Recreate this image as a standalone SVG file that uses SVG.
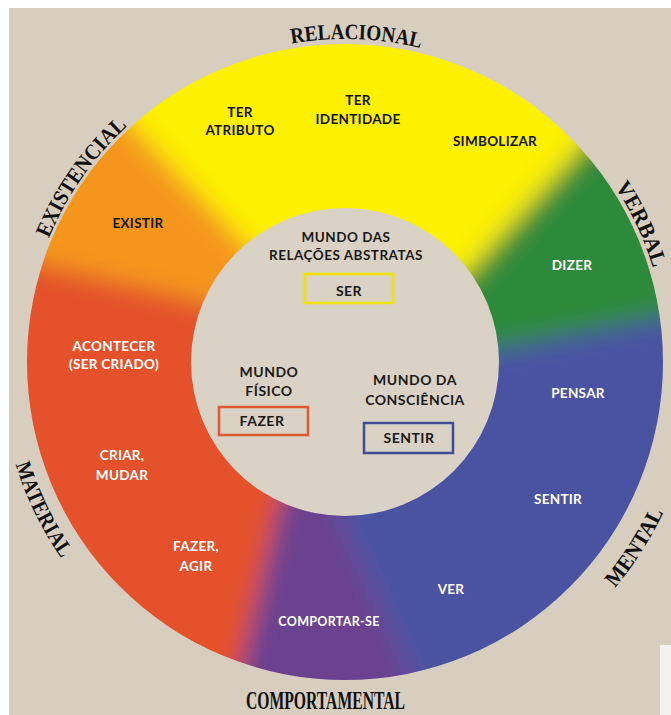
<svg xmlns="http://www.w3.org/2000/svg" width="671" height="715" viewBox="0 0 671 715">
<style>
.ring{font-family:Lato,"Open Sans","DejaVu Sans",sans-serif;font-weight:700;font-size:13.5px;text-anchor:middle;letter-spacing:0.3px}
.dk{fill:#141414}
.lt{fill:#ffffff}
.inner{font-family:Lato,"Open Sans","DejaVu Sans",sans-serif;font-weight:700;font-size:14px;text-anchor:middle;fill:#1a1a1a;letter-spacing:0.5px}
.cat{font-family:"Liberation Serif","Times New Roman",serif;font-weight:700;font-size:22px;fill:#111111}
.box{fill:none;stroke-width:2.5}
</style>
<defs>
<filter id="soft" filterUnits="userSpaceOnUse" x="-200" y="-200" width="1100" height="1100"><feGaussianBlur stdDeviation="12"/></filter>
<clipPath id="outer"><circle cx="345" cy="362" r="318"/></clipPath>
<path id="pRel" d="M146.1,107.5 A323,323 0 0,1 561.1,122.0"/>
<path id="pExi" d="M25.2,389.9 A321,321 0 0,1 261.9,51.9"/>
<path id="pVer" d="M481.1,70.2 A322,322 0 0,1 656.0,445.3"/>
<path id="pMen" d="M450.2,697.8 A352,352 0 0,0 694.1,316.6"/>
<path id="pMat" d="M10.2,278.5 A345,345 0 0,0 204.7,677.2"/>
</defs>

<rect x="0" y="0" width="671" height="715" fill="#ffffff"/>
<rect x="9" y="8" width="662" height="707" fill="#d7cebf"/>
<rect x="660" y="645" width="11" height="70" fill="#f4f2ee"/>

<g id="wheel">
<g clip-path="url(#outer)">
<g filter="url(#soft)">
<path fill="#fdf000" d="M345,362 L246,244 L63.9,54.7 L-50,-80 L750,-80 L648.3,75.8 L469.6,271.5 Z"/>
<path fill="#2d8a3a" d="M345,362 L469.6,271.5 L648.3,75.8 L800,0 L800,300 L756.8,299.2 L498.4,348.6 Z"/>
<path fill="#4953a2" d="M345,362 L498.4,348.6 L756.8,299.2 L800,300 L800,800 L454,767.4 L339.6,515.9 Z"/>
<path fill="#6a4390" d="M345,362 L339.6,515.9 L454,767.4 L218.5,759.6 L279.9,501.5 Z"/>
<path fill="#e4512b" d="M345,362 L279.9,501.5 L218.5,759.6 L-100,800 L-100,240 L-53.8,240.8 L203.2,301.8 Z"/>
<path fill="#f5961c" d="M345,362 L203.2,301.8 L-53.8,240.8 L-100,240 L-100,0 L63.9,54.7 L246,244 Z"/>
</g>
</g>
<circle id="center" cx="345" cy="362" r="154" fill="#dad2c5"/>
</g>

<g id="categories">
<text class="cat" textLength="130" lengthAdjust="spacingAndGlyphs"><textPath href="#pRel" startOffset="50%" text-anchor="middle">RELACIONAL</textPath></text>
<text class="cat" textLength="138" lengthAdjust="spacingAndGlyphs"><textPath href="#pExi" startOffset="50%" text-anchor="middle">EXISTENCIAL</textPath></text>
<text class="cat" textLength="90" lengthAdjust="spacingAndGlyphs"><textPath href="#pVer" startOffset="50%" text-anchor="middle">VERBAL</textPath></text>
<text class="cat" textLength="90" lengthAdjust="spacingAndGlyphs"><textPath href="#pMen" startOffset="50%" text-anchor="middle">MENTAL</textPath></text>
<text class="cat" textLength="105" lengthAdjust="spacingAndGlyphs"><textPath href="#pMat" startOffset="50%" text-anchor="middle">MATERIAL</textPath></text>
<text class="cat" x="246" y="709" style="font-size:25px" textLength="159" lengthAdjust="spacingAndGlyphs">COMPORTAMENTAL</text>
</g>

<g id="processes">
<text class="ring dk" x="240" y="117">TER</text>
<text class="ring dk" x="240" y="135">ATRIBUTO</text>
<text class="ring dk" x="358" y="105">TER</text>
<text class="ring dk" x="358" y="124">IDENTIDADE</text>
<text class="ring dk" x="495" y="146">SIMBOLIZAR</text>
<text class="ring dk" x="138" y="228">EXISTIR</text>
<text class="ring lt" x="572" y="270">DIZER</text>
<text class="ring lt" x="114" y="351">ACONTECER</text>
<text class="ring lt" x="114" y="369">(SER CRIADO)</text>
<text class="ring lt" x="578" y="398">PENSAR</text>
<text class="ring lt" x="122" y="460">CRIAR,</text>
<text class="ring lt" x="122" y="480">MUDAR</text>
<text class="ring lt" x="558" y="504">SENTIR</text>
<text class="ring lt" x="196" y="551">FAZER,</text>
<text class="ring lt" x="196" y="571">AGIR</text>
<text class="ring lt" x="451" y="594">VER</text>
<text class="ring lt" x="329" y="626" style="font-size:12.5px">COMPORTAR-SE</text>
</g>

<g id="mundo-abstrato">
<text class="inner" x="346" y="242" style="font-size:13.5px">MUNDO DAS</text>
<text class="inner" x="346" y="260" style="font-size:13.5px">RELAÇÕES ABSTRATAS</text>
<rect class="box" x="305" y="274" width="88" height="29" stroke="#f2e200"/>
<text class="inner" x="349" y="296">SER</text>
</g>
<g id="mundo-fisico">
<text class="inner" x="269" y="377">MUNDO</text>
<text class="inner" x="269" y="396">FÍSICO</text>
<rect class="box" x="219" y="407" width="89" height="28" stroke="#de5a32"/>
<text class="inner" x="262" y="426">FAZER</text>
</g>
<g id="mundo-consciencia">
<text class="inner" x="415" y="385">MUNDO DA</text>
<text class="inner" x="415" y="405">CONSCIÊNCIA</text>
<rect class="box" x="364" y="423" width="89" height="30" stroke="#3f4d96"/>
<text class="inner" x="409" y="443">SENTIR</text>
</g>
</svg>
